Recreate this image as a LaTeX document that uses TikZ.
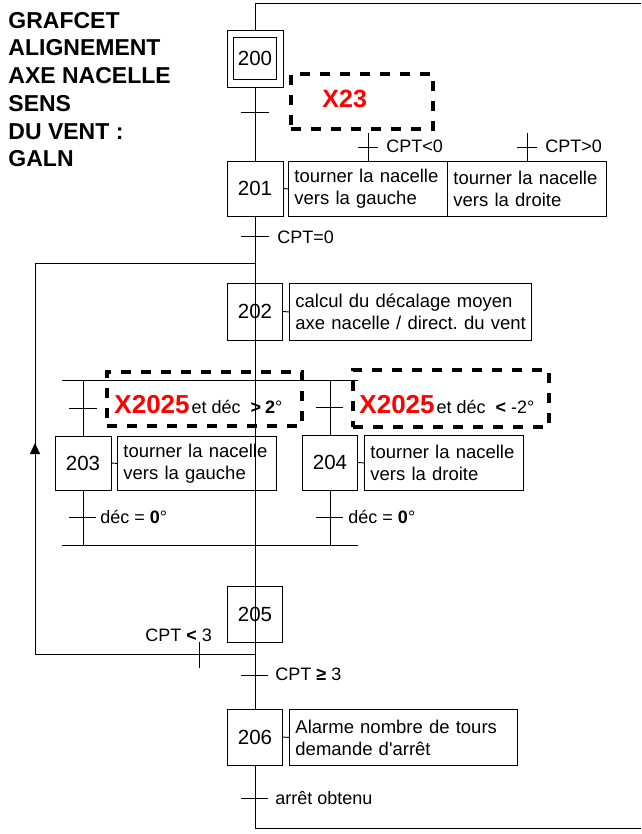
\documentclass[tikz,border=0pt]{standalone}
\usepackage{fontspec}
\setmainfont{Liberation Sans}
\newfontfamily\aposfont{Liberation Sans}[Ligatures=TeXOff]
\usetikzlibrary{arrows.meta,calc}
\frenchspacing
\begin{document}
\begin{tikzpicture}[x=1pt,y=-1pt,line width=0.9pt,
  stepbox/.style={draw,inner sep=0pt,font=\fontsize{20.5}{22}\selectfont},
  actbox/.style={draw,anchor=north west,inner sep=0pt,align=left,font=\fontsize{18.5}{22}\selectfont},
  lbl/.style={anchor=base west,inner sep=0pt,font=\fontsize{18}{20}\selectfont},
  ttl/.style={anchor=base west,inner sep=0pt,font=\fontsize{23}{26}\selectfont\bfseries},
  dbox/.style={draw,line width=4pt,dash pattern=on 10pt off 10pt,anchor=north west,inner sep=0pt},
  rtxt/.style={anchor=base west,inner sep=0pt,font=\fontsize{18}{20}\selectfont},
]
\useasboundingbox (0,0) rectangle (641,834);

% title
\node[ttl] (t1) at (8,28.3) {GRAFCET};
\node[ttl] (t2) at (8,56) {ALIGNEMENT};
\node[ttl] (t3) at (8,84) {AXE NACELLE};
\node[ttl] (t4) at (8,112) {SENS};
\node[ttl] (t5) at (8,139.5) {DU VENT :};
\node[ttl] (t6) at (8,167) {GALN};

% steps
\node[stepbox,minimum width=56pt,minimum height=57pt] (s200) at (255,58.5) {};
\node[stepbox,minimum width=43pt,minimum height=42pt] (s200i) at (255,58) {200};
\node[stepbox,minimum width=56pt,minimum height=55pt] (s201) at (255,188.5) {201};
\node[stepbox,minimum width=55pt,minimum height=57pt] (s202) at (255,311.5) {202};
\node[stepbox,minimum width=56pt,minimum height=54pt] (s203) at (83,463) {203};
\node[stepbox,minimum width=55pt,minimum height=55pt] (s204) at (330,462.5) {204};
\node[stepbox,minimum width=55pt,minimum height=56pt] (s205) at (255,614) {205};
\node[stepbox,minimum width=55pt,minimum height=56pt] (s206) at (255,737) {206};

% actions
\node[actbox,minimum width=159pt,minimum height=55pt,text width=147pt] (a201L) at (288,161) {tourner la nacelle\\vers la gauche};
\node[actbox,minimum width=159pt,minimum height=55pt,text width=147pt] (a201R) at (447,161) {tourner la nacelle\\vers la droite};
\node[actbox,minimum width=242pt,minimum height=57pt,text width=234pt] (a202) at (289,283) {\hspace*{2pt}calcul du décalage moyen\\\hspace*{2pt}axe nacelle / direct. du vent};
\node[actbox,minimum width=159pt,minimum height=54pt,text width=147pt] (a203) at (117,436) {tourner la nacelle\\vers la gauche};
\node[actbox,minimum width=159pt,minimum height=55pt,text width=147pt] (a204) at (364,435) {tourner la nacelle\\vers la droite};
\node[actbox,minimum width=228pt,minimum height=56pt,text width=216pt] (a206) at (289,709) {Alarme nombre de tours\\demande d{\aposfont '}arrêt};

\draw (s201.east) -- (a201L.west);
\draw (s202.east) -- (a202.west);
\draw (s203.east) -- (a203.west);
\draw (s204.east) -- (a204.west);
\draw (s206.east) -- (a206.west);

% main line and outer return
\coordinate (top) at (255,3);
\coordinate (topR) at (641,3);
\coordinate (bot) at (255,828);
\coordinate (botR) at (641,828);
\draw (topR) -- (top) -- (s200.north);
\draw (s200.south) -- (s201.north);
\draw (s201.south) -- (s206.north);
\draw (s206.south) -- (bot) -- (botR);

% action conditions of 201
\coordinate (c0a) at ($(a201L.north)+(0,-28)$);
\coordinate (c0b) at ($(a201R.north)+(0,-28)$);
\draw (a201L.north) -- (c0a);
\draw (a201R.north) -- (c0b);
\draw ($(a201L.north)+(-10,-14)$) -- ($(a201L.north)+(10,-14)$);
\draw ($(a201R.north)+(-10,-14)$) -- ($(a201R.north)+(10,-14)$);
\node[lbl] (lc1) at (386,153) {CPT<0};
\node[lbl] (lc2) at (545,153) {CPT>0};

% transition 200 -> 201
\coordinate (tr200) at (255,112);
\draw ($(tr200)+(-14,0)$) -- ($(tr200)+(14,0)$);
\node[dbox,minimum width=142pt,minimum height=55pt] (d23) at (289,72) {};
\node[anchor=base west,inner sep=0pt,font=\fontsize{25}{27}\selectfont\bfseries,text=red] (x23) at (322,108) {X23};

% transition 201 -> 202
\coordinate (tr201) at (255,236);
\draw ($(tr201)+(-14,0)$) -- ($(tr201)+(14,0)$);
\node[lbl] (l201) at (277,243) {CPT=0};

% divergence OR
\coordinate (dL) at (62,380);
\coordinate (dR) at (358,380);
\coordinate (d3) at (83,380);
\coordinate (d4) at (330,380);
\draw (dL) -- (dR);
\draw (d3) -- (s203.north);
\draw (d4) -- (s204.north);
\coordinate (tr3) at (83,408);
\coordinate (tr4) at (330,407);
\draw ($(tr3)+(-14,0)$) -- ($(tr3)+(14,0)$);
\draw ($(tr4)+(-14,0)$) -- ($(tr4)+(13,0)$);
\node[dbox,minimum width=195pt,minimum height=54pt] (dL2025) at (105,370) {};
\node[dbox,minimum width=196pt,minimum height=57pt] (dR2025) at (351,368) {};
\node[rtxt] (xL) at (114,413) {{\fontsize{26}{28}\selectfont\bfseries\color{red}X2025}\hspace{2pt}et déc\hspace{10pt}\textbf{>\hspace{4pt}2}°};
\node[rtxt] (xR) at (359,413) {{\fontsize{26}{28}\selectfont\bfseries\color{red}X2025}\hspace{2pt}et déc\hspace{10pt}\textbf{<}\hspace{5pt}-2°};

% convergence OR
\coordinate (cL) at (62,545);
\coordinate (cR) at (358,545);
\coordinate (c3) at (83,545);
\coordinate (c4) at (330,545);
\draw (s203.south) -- (c3);
\draw (s204.south) -- (c4);
\draw (cL) -- (cR);
\coordinate (tr3b) at (83,517);
\coordinate (tr4b) at (330,517);
\draw ($(tr3b)+(-14,0)$) -- ($(tr3b)+(13,0)$);
\draw ($(tr4b)+(-14,0)$) -- ($(tr4b)+(13,0)$);
\node[lbl] (l3b) at (100,523) {déc = \textbf{0}°};
\node[lbl] (l4b) at (348,523) {déc = \textbf{0}°};

% loop back 205 -> 202
\coordinate (lp1) at (255,654);
\coordinate (lp2) at (35,654);
\coordinate (lp3) at (35,263);
\coordinate (lp4) at (255,263);
\coordinate (lpa) at (35,443);
\draw (lp1) -- (lp2) -- (lp3) -- (lp4);
\draw[-{Triangle[length=11pt,width=10pt]}] (35,480) -- (lpa);
\coordinate (tr5l) at (199,654);
\draw ($(tr5l)+(0,-12)$) -- ($(tr5l)+(0,14)$);
\node[lbl] (l5l) at (145,641) {CPT \textbf{<} 3};

% transition 205 -> 206
\coordinate (tr5) at (255,675);
\draw ($(tr5)+(-14,0)$) -- ($(tr5)+(13,0)$);
\node[lbl] (l5) at (275,680) {CPT \textbf{≥} 3};

% transition after 206
\coordinate (tr6) at (255,798);
\draw ($(tr6)+(-14,0)$) -- ($(tr6)+(13,0)$);
\node[lbl] (l6) at (275,804) {arrêt obtenu};
\end{tikzpicture}
\end{document}
